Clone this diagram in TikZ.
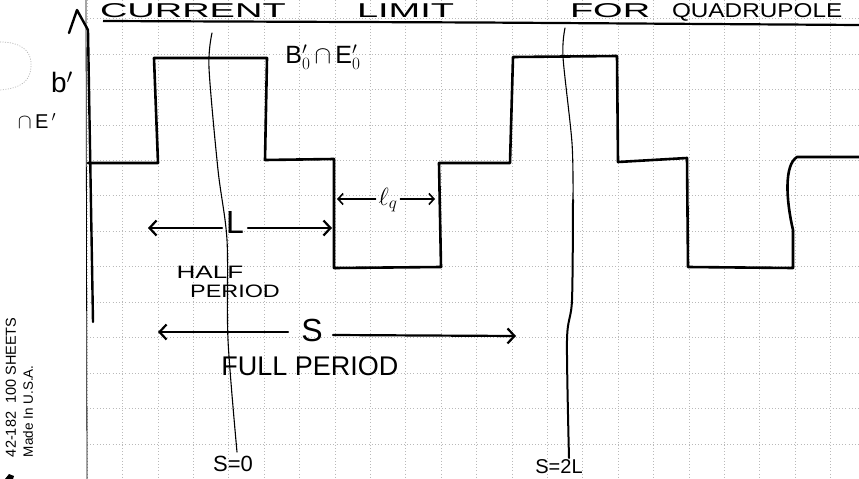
\documentclass[tikz,border=0pt]{standalone}
\usepackage{fontspec}
\setmainfont{Liberation Sans}
\usetikzlibrary{arrows.meta}
\tikzset{
  gridline/.style={gray!55, line width=0.6pt, dash pattern=on 1pt off 2.2pt},
  wave/.style={line width=2.6pt, line join=round, line cap=round},
  thinline/.style={line width=1.1pt, line cap=round},
  harrow/.style={line width=2.2pt, line cap=round, -{Straight Barb[length=7pt,width=15pt]}},
  lbl/.style={inner sep=0pt, outer sep=0pt},
  titlefont/.style={lbl, anchor=base west, xscale=1.9, font=\fontsize{20}{20}\selectfont},
}
\begin{document}
\begin{tikzpicture}[x=1pt,y=-1pt]
\useasboundingbox (0,0) rectangle (859,479);
\clip (0,0) rectangle (859,479);
\fill[white] (0,0) rectangle (859,479);
% grid
\foreach \i in {0,...,21} { \draw[gridline] ({87+35.4*\i},0) -- ({87+35.4*\i},479); }
\foreach \j in {0,...,13} { \draw[gridline] (87,{18.5+35.45*\j}) -- (859,{18.5+35.45*\j}); }
% margin line
\draw[line width=0.8pt] (86,0) -- (87,479);
% hole punch outline
\draw[gray!60, line width=0.7pt, dash pattern=on 1pt off 1.5pt] (0,42) .. controls (20,42) and (30,50) .. (31,62) .. controls (32,78) and (25,88) .. (0,90);
% margin print
\node[lbl, rotate=90, anchor=south west, font=\fontsize{14.5}{14.5}\selectfont] (sheets) at (16,457) {42-182\ \ 100 SHEETS};
\node[lbl, rotate=90, anchor=south west, font=\fontsize{13.5}{13.5}\selectfont] (made) at (33,457) {Made In U.S.A.};
\fill (5,479) -- (9,474) -- (14,476) -- (13,479) -- cycle;
% title
\node[titlefont] (t1) at (100,17) {CURRENT};
\node[titlefont] (t2) at (357,17) {LIMIT};
\node[titlefont] (t3) at (570,17) {FOR};
\node[titlefont, xscale=0.64] (t4) at (672,17) {QUADRUPOLE};
\draw[line width=2.2pt] (103,21) -- (480,22.5) -- (859,25);
% vertical axis
\draw[line width=2.4pt, line cap=round] (93,322) -- (88,30);
\draw[line width=2.4pt, line cap=round, line join=round] (69,33) -- (77,10) -- (88,30);
% axis labels
\node[lbl, font=\fontsize{28}{28}\selectfont] (bl) at (62,82) {b$'$};
\node[lbl, font=\fontsize{20}{20}\selectfont] (el) at (37,121) {$\cap$\,E\,$'$};
% square wave
\draw[wave] (88,163) -- (158,163) -- (154,58) -- (267,58) -- (265,160) -- (334,159)
  -- (334,268) -- (441,267) -- (439,163) -- (510,163) -- (513,57) -- (617,56)
  -- (618,162) -- (687,158) -- (688,267) -- (793,268) -- (793,230)
  .. controls (786,200) and (784,165) .. (797,157) -- (859,157);
% s = 0 line
\draw[thinline] plot[smooth, tension=0.5] coordinates {(212,33) (209,68) (218,170) (227,240) (228,340) (237,452)};
\node[lbl, font=\fontsize{22}{22}\selectfont] (s0) at (233,464) {S=0};
% s = 2L line
\draw[thinline] plot[smooth, tension=0.5] coordinates {(565,28) (563,57) (572,143) (573,200)};
\draw[line width=2pt, line cap=round] plot[smooth, tension=0.5] coordinates {(573,200) (572,300) (567,340) (569,458)};
\node[lbl, anchor=north, font=\fontsize{20}{20}\selectfont] (s2) at (559,460) {S=2L};
% label on top plateau
\node[lbl, font=\fontsize{25}{25}\selectfont] (bn) at (323,57) {B$'_0$\,$\cap$\,E$'_0$};
% L arrow
\node[lbl, font=\fontsize{32}{32}\selectfont] (Ltxt) at (235,222) {L};
\coordinate (La) at (148,228);
\coordinate (Lb) at (332,228);
\draw[harrow] (Ltxt.west |- La) ++(-4,0) -- (La);
\draw[harrow] (Ltxt.east |- Lb) ++(4,0) -- (Lb);
% l_q arrow
\node[lbl, font=\fontsize{26}{26}\selectfont] (lq) at (388,200) {$\ell_q$};
\coordinate (qa) at (337,199);
\coordinate (qb) at (435,199);
\draw[harrow, line width=1.6pt, -{Straight Barb[length=5pt,width=11pt]}] (lq.west |- qa) ++(-3,0) -- (qa);
\draw[harrow, line width=1.6pt, -{Straight Barb[length=5pt,width=11pt]}] (lq.east |- qb) ++(3,0) -- (qb);
% half period
\node[lbl, xscale=1.45, font=\fontsize{18}{18}\selectfont] (half) at (210,272) {HALF};
\node[lbl, xscale=1.3, font=\fontsize{18}{18}\selectfont] (hper) at (235,291) {PERIOD};
% S arrow
\node[lbl, font=\fontsize{32}{32}\selectfont] (Stxt) at (312,330) {S};
\coordinate (Sa) at (158,332);
\coordinate (Sb) at (516,336);
\draw[harrow] (288,332) -- (Sa);
\draw[harrow] (333,335) -- (Sb);
% full period
\node[lbl, font=\fontsize{27}{27}\selectfont] (fper) at (310,366) {FULL PERIOD};
\end{tikzpicture}
\end{document}
